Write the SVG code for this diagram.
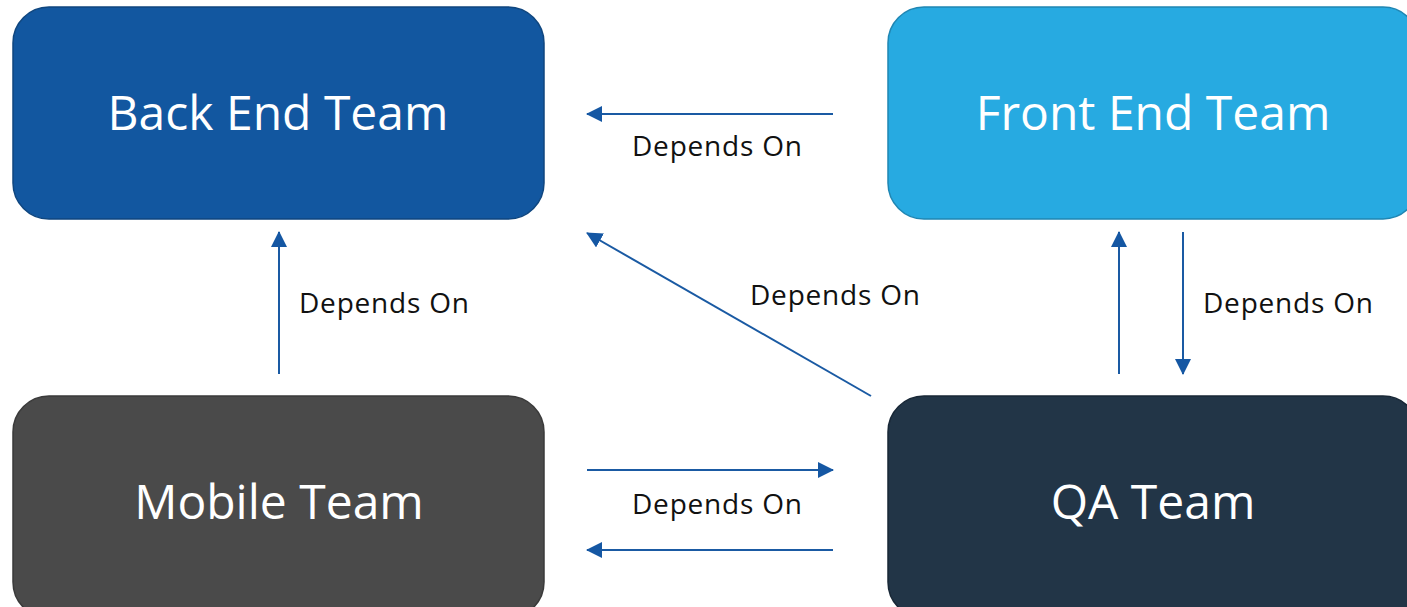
<svg xmlns="http://www.w3.org/2000/svg" width="1407" height="607" viewBox="0 0 1407 607">
<defs>
<style>
.node-text{font-family:"Open Sans","Noto Sans",sans-serif;font-size:48px;fill:#ffffff;text-anchor:middle}
.lbl{font-family:"Open Sans","Noto Sans",sans-serif;font-size:28px;letter-spacing:0.8px;fill:#111111}
.conn{stroke:#1a5aa3;stroke-width:2;fill:none;marker-end:url(#ah)}
</style>
<marker id="ah" viewBox="0 0 16 16" refX="15" refY="8" markerWidth="16" markerHeight="16" markerUnits="userSpaceOnUse" orient="auto">
<path d="M0,0 L16,8 L0,16 Z" fill="#1557a3"/>
</marker>
</defs>
<rect width="1407" height="607" fill="#ffffff"/>
<g id="back-end">
<rect x="13" y="7" width="531" height="212" rx="36" fill="#1257a0" stroke="#0f467f" stroke-width="1.5"/>
<text class="node-text" x="278" y="130">Back End Team</text>
</g>
<g id="front-end">
<rect x="888" y="7" width="531" height="212" rx="36" fill="#27aae1" stroke="#1f86b3" stroke-width="1.5"/>
<text class="node-text" x="1153" y="130">Front End Team</text>
</g>
<g id="mobile">
<rect x="13" y="396" width="531" height="222" rx="36" fill="#4a4a4a" stroke="#3a3a3a" stroke-width="1.5"/>
<text class="node-text" x="279" y="519">Mobile Team</text>
</g>
<g id="qa">
<rect x="888" y="396" width="531" height="222" rx="36" fill="#223547" stroke="#182736" stroke-width="1.5"/>
<text class="node-text" x="1153" y="519">QA Team</text>
</g>
<g id="connectors">
<line class="conn" x1="833" y1="114" x2="587" y2="114"/>
<line class="conn" x1="279" y1="374" x2="279" y2="232"/>
<line class="conn" x1="871" y1="396" x2="587" y2="233"/>
<line class="conn" x1="1119" y1="374" x2="1119" y2="232"/>
<line class="conn" x1="1183" y1="232" x2="1183" y2="374"/>
<line class="conn" x1="587" y1="470" x2="833" y2="470"/>
<line class="conn" x1="833" y1="550" x2="587" y2="550"/>
<text class="lbl" x="632" y="156">Depends On</text>
<text class="lbl" x="299" y="313">Depends On</text>
<text class="lbl" x="750" y="305">Depends On</text>
<text class="lbl" x="1203" y="313">Depends On</text>
<text class="lbl" x="632" y="514">Depends On</text>
</g>
</svg>
